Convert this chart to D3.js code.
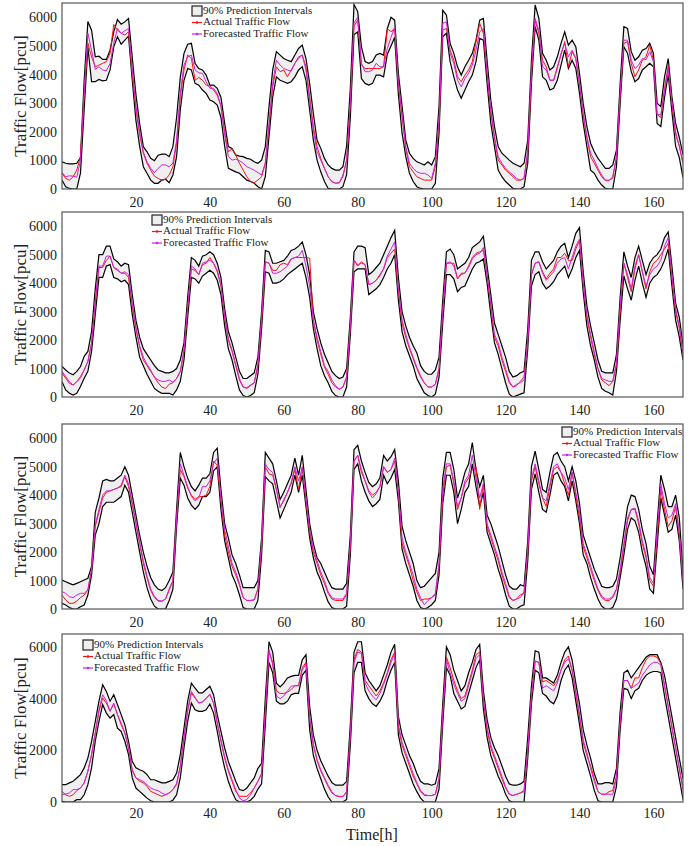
<!DOCTYPE html>
<html>
<head>
<meta charset="utf-8">
<script src="https://cdn.jsdelivr.net/npm/d3@7"></script>
<style>
  body { margin: 0; background: #fff; }
  svg text { font-family: "Liberation Serif", "Times New Roman", serif; fill: #222; }
</style>
</head>
<body>
<svg id="chart" width="697" height="846"></svg>
<script>
// hourly values, h = 0..168
var actual1 = [
 550, 370, 310, 430, 660, 1130, 3300, 5100, 4620, 4270,
 4330, 4390, 4450, 4740, 5750, 5550, 5440, 5380, 5490, 4000,
 2800, 1900, 1250, 900, 660, 450, 370, 310, 340, 490,
 780, 1600, 3220, 4160, 4680, 4560, 3800, 3900, 3800, 3630,
 3600, 3460, 3280, 2900, 2000, 1300, 1400, 1190, 900, 660,
 430, 260, 220, 310, 430, 900, 2180, 3570, 4270, 4100,
 4160, 3920, 4160, 4390, 4620, 4680, 4270, 3220, 2180, 1480,
 1070, 720, 430, 260, 200, 220, 430, 1000, 3000, 5700,
 5900, 4330, 4210, 4210, 4210, 4210, 4210, 4270, 5600, 5500,
 5600, 3640, 2530, 1420, 780, 600, 430, 370, 310, 310,
 310, 780, 2300, 5550, 5610, 4850, 4500, 3920, 3750, 3980,
 4160, 4450, 5150, 5790, 5440, 4000, 2700, 1770, 1010, 840,
 660, 550, 430, 310, 310, 370, 1250, 4000, 5900, 5440,
 4500, 4270, 3800, 3800, 4270, 4680, 5150, 4270, 4800, 4560,
 3660, 2580, 1770, 1130, 900, 660, 430, 290, 290, 430,
 1130, 3280, 5090, 5150, 4390, 3920, 4160, 4500, 4620, 5030,
 4500, 2600, 2500, 3500, 4300, 3000, 1900, 1500, 900];
var forecast1 = [
 580, 430, 460, 450, 410, 1000, 3400, 5440, 4850, 4180,
 4270, 4160, 4130, 4390, 5090, 5610, 5440, 5530, 5610, 4200,
 2900, 2000, 1300, 950, 720, 570, 720, 840, 840, 780,
 900, 1700, 3340, 4330, 4620, 4680, 4160, 4060, 4040, 3750,
 3520, 3520, 3340, 2900, 1900, 1130, 1010, 1040, 990, 900,
 780, 720, 660, 570, 490, 900, 2290, 3690, 4500, 4330,
 4210, 4160, 4120, 4390, 4560, 4680, 4160, 3110, 2060, 1300,
 1010, 720, 430, 260, 200, 220, 490, 1000, 3000, 5800,
 6000, 4390, 4100, 4100, 4160, 4390, 4270, 4270, 4900, 5300,
 5650, 3700, 2620, 1480, 900, 720, 600, 550, 550, 490,
 370, 900, 2400, 5790, 5840, 4740, 4390, 3800, 3570, 3860,
 4040, 4330, 4850, 5490, 5610, 4100, 2760, 1830, 1130, 900,
 720, 600, 490, 370, 310, 370, 1360, 4160, 5960, 5550,
 4270, 4160, 3800, 3800, 4210, 4740, 5090, 4620, 4850, 4560,
 3690, 2640, 1830, 1250, 1010, 720, 490, 310, 310, 370,
 1130, 3340, 5200, 5200, 4500, 4210, 4330, 4560, 4520, 4800,
 4450, 2600, 2600, 3400, 4210, 3050, 2000, 1500, 900];
var upper1 = [
 950, 900, 880, 880, 900, 1100, 3800, 5850, 5550, 4620,
 4640, 4530, 4530, 4850, 5490, 5920, 5760, 5840, 5960, 4600,
 3300, 2300, 1480, 1300, 1070, 990, 1180, 1220, 1220, 1130,
 1480, 2500, 3900, 4740, 5060, 5090, 4390, 4210, 4160, 3980,
 3630, 3630, 3520, 3200, 2300, 1480, 1420, 1190, 1150, 1130,
 1070, 1040, 950, 900, 1010, 1480, 2880, 4160, 4800, 4680,
 4560, 4500, 4450, 4680, 4910, 5030, 4560, 3690, 2640, 1710,
 1420, 1070, 840, 720, 660, 660, 780, 1500, 3500, 6450,
 6200, 4970, 4450, 4390, 4450, 4680, 4740, 4680, 5600, 6000,
 5900, 4040, 2900, 1710, 1250, 1070, 950, 900, 840, 950,
 840, 1130, 2900, 6250, 6080, 5090, 4740, 4270, 3980, 4270,
 4500, 4740, 5200, 5900, 5960, 4500, 3110, 2180, 1480, 1250,
 1130, 1010, 900, 840, 780, 900, 1710, 4500, 6430, 5960,
 4740, 4500, 4160, 4270, 4620, 5090, 5490, 5030, 5200, 4970,
 4040, 2990, 2180, 1600, 1300, 1070, 900, 720, 720, 840,
 1360, 3690, 5670, 5610, 4800, 4500, 4620, 4850, 4910, 5090,
 4740, 3000, 2880, 3920, 4560, 3220, 2300, 1800, 1200];
var lower1 = [
 310, 80, 20, 0, 0, 550, 2800, 4950, 3750, 3750,
 3830, 3780, 3800, 4160, 4970, 5320, 5060, 5200, 5340, 3800,
 2400, 1500, 780, 550, 310, 200, 200, 310, 340, 220,
 490, 1130, 2760, 3800, 4210, 4160, 3690, 3630, 3460, 3340,
 3110, 3050, 2930, 2500, 1500, 720, 660, 600, 550, 430,
 310, 260, 200, 80, 0, 430, 1830, 3220, 3920, 3800,
 3750, 3690, 3750, 3920, 4160, 4270, 3800, 2760, 1710, 1010,
 600, 260, 20, 0, 0, 0, 80, 500, 2500, 5400,
 5490, 3860, 3690, 3630, 3690, 3980, 3980, 3920, 4700, 5000,
 5300, 3300, 1950, 1130, 550, 260, 80, 20, 0, 0,
 0, 200, 1950, 5320, 5440, 4450, 3920, 3460, 3170, 3460,
 3750, 3980, 4450, 5260, 5200, 3700, 2300, 1480, 660, 430,
 260, 140, 20, 0, 0, 80, 900, 3700, 5670, 5200,
 3920, 3800, 3460, 3520, 3800, 4330, 4850, 4210, 4500, 4210,
 3340, 2300, 1480, 660, 550, 310, 140, 20, 0, 0,
 780, 3000, 4970, 4740, 4100, 3750, 3860, 4160, 4270, 4390,
 4270, 2290, 2180, 3200, 4000, 2700, 1500, 1100, 400];

var actual2 = [
 840, 660, 480, 420, 540, 720, 950, 1250, 1900, 3300,
 4550, 4550, 4800, 4950, 4550, 4450, 4350, 4350, 4200, 3200,
 2400, 1750, 1300, 1100, 900, 700, 500, 350, 300, 450,
 500, 650, 900, 1600, 3100, 4500, 4450, 4300, 4650, 4700,
 4900, 4700, 4400, 3900, 2800, 2000, 1600, 1100, 600, 350,
 300, 400, 500, 1100, 2700, 4750, 4700, 4450, 4450, 4650,
 4700, 4650, 4850, 4900, 4900, 4900, 4900, 4880, 2700, 2000,
 1500, 1050, 800, 500, 350, 270, 350, 700, 2500, 4800,
 4600, 4750, 4650, 3950, 4000, 4100, 4300, 4500, 4900, 5050,
 5200, 3700, 2600, 2100, 1700, 1350, 1000, 700, 500, 350,
 350, 450, 1000, 3000, 4700, 4700, 4700, 4150, 4350, 4350,
 4600, 4900, 5050, 5100, 5150, 4300, 3200, 2100, 1800, 1300,
 900, 500, 350, 400, 550, 700, 2000, 4300, 4700, 4750,
 4400, 4150, 4350, 4500, 4900, 4900, 5050, 4800, 4800, 5200,
 5500, 4000, 2800, 2100, 1500, 1000, 600, 500, 400, 550,
 1100, 3000, 4700, 4200, 3700, 4500, 5000, 4400, 3800, 4400,
 4700, 4800, 5000, 5200, 5400, 4200, 3000, 2400, 1500];
var forecast2 = [
 900, 720, 540, 420, 540, 660, 950, 1250, 1900, 3400,
 4600, 4600, 4950, 4950, 4550, 4500, 4350, 4400, 4300, 3300,
 2450, 1800, 1400, 1150, 950, 700, 600, 550, 550, 600,
 520, 650, 900, 1650, 3200, 4600, 4500, 4300, 4700, 4750,
 4800, 4700, 4450, 3950, 2850, 2050, 1650, 1150, 650, 350,
 330, 420, 500, 1150, 2750, 4750, 4700, 4350, 4350, 4400,
 4500, 4600, 4850, 4900, 4950, 5150, 4600, 3900, 2700, 2100,
 1600, 1100, 900, 600, 400, 270, 350, 700, 2500, 4800,
 4650, 4700, 4650, 3950, 4000, 4100, 4250, 4500, 4950, 5200,
 5450, 3800, 2700, 2200, 1750, 1400, 1050, 750, 500, 350,
 350, 450, 1000, 3000, 4700, 4750, 4600, 4150, 4300, 4350,
 4550, 4850, 5000, 5050, 5250, 4300, 3300, 2200, 1900, 1400,
 1000, 550, 350, 450, 500, 600, 2000, 4300, 4700, 4750,
 4350, 4100, 4250, 4400, 4700, 4850, 4900, 4500, 4900, 5300,
 5550, 4000, 2900, 2200, 1600, 1000, 650, 600, 550, 550,
 1200, 3200, 4700, 4300, 3800, 4600, 5000, 4400, 3900, 4300,
 4500, 4600, 4800, 5300, 5600, 4300, 3100, 2500, 1550];
var upper2 = [
 1070, 950, 840, 780, 900, 1070, 1430, 1600, 2300, 3800,
 5000, 5000, 5300, 5300, 4850, 4750, 4600, 4700, 4650, 3600,
 2700, 2100, 1700, 1500, 1300, 1100, 950, 900, 850, 850,
 900, 1000, 1300, 1900, 3500, 4900, 4800, 4600, 4950, 5000,
 5100, 5000, 4700, 4200, 3100, 2300, 1900, 1400, 900, 650,
 650, 750, 850, 1400, 3000, 5150, 5100, 4700, 4700, 4750,
 4800, 4950, 5150, 5200, 5300, 5450, 5000, 4300, 3000, 2400,
 1900, 1500, 1200, 900, 750, 650, 700, 1000, 2800, 5100,
 5300, 5300, 5250, 4300, 4400, 4550, 4700, 5000, 5300, 5600,
 5850, 4200, 3000, 2500, 2100, 1800, 1550, 1100, 900, 800,
 800, 950, 1400, 3400, 5100, 5200, 5000, 4500, 4600, 4700,
 4900, 5250, 5350, 5450, 5650, 4600, 3600, 2600, 2200, 1800,
 1400, 900, 700, 750, 850, 900, 2400, 4800, 5100, 5100,
 4750, 4500, 4650, 4800, 5100, 5300, 5400, 4900, 5300, 5750,
 5950, 4400, 3200, 2500, 1900, 1300, 900, 850, 850, 850,
 1500, 3500, 5100, 4600, 4200, 4900, 5300, 4800, 4300, 4700,
 4900, 5000, 5200, 5600, 5800, 4600, 3300, 2800, 1800];
var lower2 = [
 540, 250, 130, 70, 130, 370, 660, 900, 1600, 2900,
 4200, 4200, 4600, 4650, 4200, 4150, 4050, 4100, 3950, 2900,
 2100, 1400, 1100, 800, 550, 300, 200, 130, 130, 130,
 70, 250, 550, 1300, 2800, 4200, 4150, 4000, 4250, 4350,
 4450, 4350, 4100, 3600, 2500, 1700, 1300, 750, 250, 50,
 0, 50, 150, 800, 2400, 4400, 4350, 4000, 4000, 4050,
 4150, 4300, 4400, 4500, 4600, 4700, 4200, 3500, 2400, 1700,
 1100, 750, 500, 200, 50, 0, 0, 350, 2200, 4400,
 4500, 4500, 4500, 3600, 3700, 3800, 3950, 4200, 4500, 4700,
 5000, 3400, 2300, 1800, 1450, 1100, 650, 400, 150, 50,
 0, 100, 700, 2600, 4300, 4300, 4150, 3700, 3850, 3900,
 4200, 4500, 4700, 4750, 4850, 4000, 2900, 1900, 1500, 1000,
 500, 100, 0, 50, 100, 150, 1700, 3900, 4300, 4400,
 4000, 3800, 3900, 4050, 4300, 4450, 4600, 4200, 4500, 4900,
 5150, 3700, 2500, 1800, 1300, 700, 300, 200, 150, 70,
 900, 2700, 4250, 3800, 3400, 4100, 4600, 4000, 3500, 4000,
 4200, 4300, 4500, 4800, 5200, 3900, 2700, 2100, 1300];

var actual3 = [
 490, 320, 200, 200, 280, 400, 490, 670, 1380, 2900,
 3400, 3900, 4100, 4150, 4200, 4250, 4300, 4650, 4300, 3700,
 3000, 2300, 1600, 1100, 650, 400, 280, 270, 350, 700,
 1000, 3200, 4900, 4650, 4250, 4000, 3850, 3950, 3950, 4000,
 4300, 5200, 5050, 3800, 2600, 2000, 1500, 1200, 850, 400,
 300, 300, 320, 700, 2200, 5000, 4750, 4700, 4200, 3600,
 3800, 4100, 4400, 4900, 4200, 5000, 3800, 2700, 2000, 1600,
 1200, 900, 550, 350, 300, 300, 300, 500, 2200, 5200,
 5400, 4800, 4500, 4150, 4000, 4100, 4300, 5000, 4800, 4900,
 5200, 4100, 2300, 1900, 1500, 1000, 600, 300, 350, 350,
 400, 500, 1500, 4000, 5000, 5050, 4400, 3500, 3900, 4400,
 4600, 4900, 5000, 3500, 4400, 2900, 2500, 2100, 1700, 1200,
 800, 400, 300, 350, 500, 550, 2000, 4500, 5000, 4400,
 3900, 3600, 4300, 4900, 5000, 4800, 4400, 4000, 4800, 4000,
 3200, 2200, 1800, 1400, 1000, 650, 400, 300, 300, 400,
 700, 1300, 2200, 3100, 3500, 3500, 3000, 2300, 1800, 1000,
 800, 2500, 4200, 3500, 2900, 3100, 3600, 2600, 1000];
var forecast3 = [
 610, 550, 430, 400, 490, 550, 550, 670, 1400, 2950,
 3500, 4000, 4150, 4150, 4200, 4250, 4350, 4700, 4400, 3750,
 3050, 2350, 1700, 1150, 700, 450, 300, 280, 350, 650,
 1000, 3200, 5100, 4700, 4300, 3950, 3800, 3900, 4300, 4300,
 4500, 5100, 5300, 3900, 2800, 2200, 1600, 1300, 900, 400,
 300, 300, 320, 700, 2300, 5100, 4900, 4800, 4200, 3550,
 3850, 4100, 4450, 5000, 4500, 4950, 3900, 2800, 2100, 1700,
 1300, 1000, 600, 400, 350, 350, 350, 550, 2300, 5200,
 5400, 4900, 4500, 4100, 3900, 4050, 4300, 5000, 4800, 4900,
 5300, 4100, 2500, 2000, 1600, 1200, 700, 400, 150, 300,
 400, 550, 1600, 4200, 5100, 5100, 4500, 3600, 3900, 4500,
 4700, 5400, 4600, 3900, 4400, 3000, 2600, 2200, 1800, 1300,
 900, 450, 300, 350, 400, 600, 2100, 4600, 5100, 4500,
 3900, 3800, 4400, 5000, 5100, 4800, 4600, 4200, 4800, 4100,
 3400, 2300, 1900, 1500, 1100, 700, 450, 350, 350, 450,
 700, 1400, 2300, 3200, 3500, 3550, 3100, 2400, 1900, 1100,
 900, 2700, 4400, 3700, 3200, 3300, 3700, 2700, 1000];
var upper3 = [
 1020, 960, 900, 850, 900, 960, 1020, 1080, 1500, 3400,
 3900, 4500, 4550, 4500, 4500, 4600, 4700, 5000, 4700, 4000,
 3300, 2600, 2000, 1500, 1100, 850, 700, 650, 750, 1000,
 1300, 3500, 5500, 5000, 4600, 4300, 4150, 4350, 4600, 4600,
 4750, 5500, 5650, 4200, 3000, 2500, 1900, 1600, 1200, 750,
 750, 750, 750, 1000, 2500, 5500, 5300, 5100, 4500, 3850,
 4100, 4400, 4700, 5300, 4700, 5400, 4200, 3000, 2300, 1800,
 1600, 1300, 1000, 750, 700, 700, 700, 900, 2600, 5600,
 5750, 5200, 4800, 4450, 4300, 4400, 4600, 5400, 5200, 5350,
 5600, 4500, 2900, 2400, 2000, 1600, 1000, 750, 800, 950,
 1100, 1250, 2000, 4600, 5500, 5500, 4900, 3900, 4300, 4800,
 5100, 5850, 4900, 4300, 4700, 3300, 3000, 2600, 2200, 1700,
 1200, 800, 700, 700, 850, 800, 2400, 5000, 5550, 4900,
 4200, 4100, 4800, 5400, 5500, 5200, 5000, 4500, 5000, 4500,
 3700, 2600, 2200, 1800, 1400, 1100, 800, 750, 750, 800,
 1050, 1800, 2700, 3600, 4000, 3950, 3500, 2800, 2300, 1500,
 1200, 3000, 4700, 4200, 3600, 3600, 4000, 3200, 1300];
var lower3 = [
 200, 140, 50, 0, 0, 80, 140, 490, 1200, 2600,
 3000, 3600, 3750, 3750, 3750, 3850, 3950, 4350, 4100, 3400,
 2700, 2000, 1300, 750, 350, 100, 0, 0, 0, 300,
 700, 2900, 4600, 4350, 3900, 3650, 3500, 3650, 3950, 3950,
 4100, 4850, 5000, 3500, 2400, 1800, 1200, 900, 500, 50,
 0, 0, 0, 300, 1900, 4650, 4500, 4400, 3800, 3200,
 3500, 3800, 4100, 4700, 4100, 4700, 3600, 2500, 1800, 1300,
 1000, 600, 250, 50, 0, 0, 0, 100, 1900, 4900,
 5100, 4500, 4100, 3800, 3600, 3700, 3850, 4700, 4400, 4600,
 4900, 3800, 2100, 1600, 1200, 800, 300, 50, 0, 50,
 150, 300, 1200, 3700, 4700, 4700, 4100, 3000, 3500, 4100,
 4300, 5100, 4300, 3600, 4100, 2700, 2300, 1900, 1400, 1000,
 500, 100, 0, 0, 100, 150, 1700, 4200, 4750, 4100,
 3500, 3400, 4000, 4700, 4800, 4500, 4300, 3800, 4500, 3800,
 3000, 1900, 1600, 1100, 700, 350, 100, 0, 0, 50,
 350, 1100, 1900, 2800, 3200, 3100, 2700, 2000, 1500, 700,
 550, 2200, 3900, 3300, 2700, 2800, 3300, 2400, 700];

var actual4 = [
 410, 280, 220, 280, 440, 540, 740, 1190, 1830, 2670,
 3510, 4020, 3830, 3510, 3790, 3380, 2990, 2670, 2090, 1250,
 930, 800, 740, 610, 410, 350, 280, 220, 280, 350,
 480, 670, 1380, 2480, 3510, 4220, 4020, 3830, 3870, 4020,
 4150, 3830, 3060, 2350, 1700, 1190, 800, 410, 220, 220,
 220, 350, 540, 800, 1100, 3500, 5800, 5400, 4300, 4200,
 4200, 4250, 4350, 4500, 4500, 5200, 5400, 3200, 2200, 1600,
 1200, 900, 600, 350, 250, 200, 200, 400, 2600, 5500,
 5900, 5800, 4700, 4500, 4300, 4100, 4300, 4600, 5000, 5500,
 5800, 2900, 2200, 1800, 1400, 1000, 700, 400, 250, 250,
 250, 300, 900, 3400, 5600, 5200, 4700, 4300, 4000, 4100,
 4600, 5100, 5700, 5800, 3900, 2800, 2100, 1700, 1300, 900,
 550, 300, 250, 300, 350, 450, 2000, 4100, 5450, 5400,
 4650, 4700, 4600, 4500, 4700, 5100, 5500, 5650, 5100, 4200,
 3300, 2300, 1800, 1400, 900, 400, 300, 300, 400, 450,
 1000, 3100, 4700, 4700, 4400, 4800, 4800, 5200, 5500, 5650,
 5650, 5600, 5350, 4500, 3700, 2900, 2100, 1300, 500];
var forecast4 = [
 280, 310, 350, 480, 480, 540, 740, 1190, 1830, 2670,
 3570, 4150, 3920, 3510, 3830, 3380, 3060, 2670, 2090, 1200,
 930, 860, 800, 670, 540, 480, 440, 350, 280, 350,
 480, 720, 1380, 2480, 3570, 4280, 4050, 3830, 3870, 4000,
 4180, 3830, 3060, 2400, 1750, 1250, 860, 480, 150, 50,
 90, 280, 540, 800, 1100, 3500, 5900, 5300, 4100, 4000,
 4100, 4300, 4480, 4500, 4500, 5100, 5350, 3300, 2250, 1650,
 1250, 950, 650, 400, 250, 220, 220, 400, 2600, 5400,
 5800, 5750, 4600, 4300, 4100, 3950, 4200, 4550, 4950, 5400,
 5750, 3000, 2300, 1900, 1500, 1100, 750, 450, 300, 250,
 250, 300, 900, 3400, 5500, 5000, 4550, 4200, 3900, 4000,
 4500, 5000, 5550, 5700, 4000, 2900, 2200, 1800, 1400, 1000,
 600, 300, 250, 300, 350, 400, 2000, 4100, 5450, 5400,
 4400, 4500, 4400, 4300, 4600, 5100, 5400, 5550, 5100, 4300,
 3400, 2400, 1900, 1300, 800, 400, 300, 300, 300, 300,
 900, 3100, 4700, 4700, 4400, 4500, 4600, 4900, 5100, 5300,
 5400, 5400, 5300, 4500, 3700, 2900, 2100, 1300, 500];
var upper4 = [
 670, 670, 740, 800, 930, 1060, 1320, 1700, 2350, 3120,
 3900, 4540, 4280, 3900, 4150, 3770, 3380, 2990, 2350, 1570,
 1320, 1250, 1190, 1060, 860, 860, 800, 740, 740, 800,
 860, 1120, 1830, 2860, 3900, 4600, 4410, 4220, 4220, 4350,
 4480, 4150, 3380, 2730, 2090, 1570, 1190, 800, 480, 440,
 540, 740, 930, 1300, 1500, 4000, 6200, 5800, 4600, 4450,
 4600, 4800, 4860, 4900, 4900, 5500, 5700, 3700, 2600, 2000,
 1600, 1300, 1000, 750, 650, 650, 650, 800, 3000, 5800,
 6200, 6200, 5000, 4700, 4500, 4300, 4500, 4900, 5300, 5800,
 6100, 3300, 2600, 2200, 1800, 1500, 1100, 800, 700, 700,
 650, 700, 1300, 3800, 6000, 5700, 5100, 4700, 4300, 4500,
 5000, 5400, 5900, 6100, 4300, 3200, 2500, 2100, 1800, 1400,
 1000, 700, 650, 650, 700, 800, 2500, 4500, 5850, 5800,
 4800, 4800, 4700, 4600, 4900, 5400, 5800, 6000, 5500, 4600,
 3800, 2800, 2200, 1700, 1100, 700, 700, 750, 750, 700,
 1300, 3500, 5000, 5100, 4800, 5000, 5200, 5400, 5600, 5700,
 5700, 5700, 5400, 4900, 4100, 3300, 2500, 1700, 900];
var lower4 = [
 30, 0, 0, 0, 90, 90, 280, 670, 1320, 2350,
 3120, 3770, 3440, 3250, 3380, 2860, 2730, 2350, 1830, 930,
 540, 410, 280, 150, 50, 0, 0, 0, 0, 0,
 70, 280, 930, 2090, 3120, 3830, 3570, 3510, 3510, 3570,
 3790, 3440, 2730, 1960, 1320, 800, 410, 90, 0, 0,
 0, 70, 220, 500, 700, 3000, 5400, 5000, 3900, 3800,
 3800, 3900, 4150, 4200, 4200, 4900, 5100, 2800, 1800, 1300,
 900, 500, 200, 0, 0, 0, 0, 100, 2200, 5000,
 5400, 5400, 4300, 4000, 3800, 3700, 3900, 4200, 4700, 5100,
 5400, 2600, 1900, 1500, 1100, 700, 400, 150, 0, 0,
 0, 0, 500, 3000, 5200, 4900, 4200, 3900, 3600, 3700,
 4200, 4700, 5200, 5500, 3600, 2500, 1800, 1400, 1000, 700,
 300, 50, 0, 0, 0, 0, 1700, 3800, 5100, 5000,
 4200, 4100, 3900, 3800, 4100, 4700, 5100, 5300, 4800, 3900,
 3000, 2000, 1500, 1000, 450, 50, 0, 0, 0, 0,
 600, 2800, 4400, 4350, 4000, 4300, 4400, 4700, 4900, 5000,
 5050, 5050, 5000, 4100, 3300, 2500, 1700, 900, 100];

var xTicks = [20, 40, 60, 80, 100, 120, 140, 160];
var yTicksFine = [0, 1000, 2000, 3000, 4000, 5000, 6000];
var yTicksCoarse = [0, 2000, 4000, 6000];
var legendLabels = ["90% Prediction Intervals", "Actual Traffic Flow", "Forecasted Traffic Flow"];

var panels = [
  {actual: actual1, forecast: forecast1, lower: lower1, upper: upper1, top: 3, bottom: 189, ticks: yTicksFine, lx: 192, ly: 11, pad: 8},
  {actual: actual2, forecast: forecast2, lower: lower2, upper: upper2, top: 212, bottom: 397, ticks: yTicksFine, lx: 152, ly: 220, pad: 8},
  {actual: actual3, forecast: forecast3, lower: lower3, upper: upper3, top: 424, bottom: 609, ticks: yTicksFine, lx: 562, ly: 432, pad: 8},
  {actual: actual4, forecast: forecast4, lower: lower4, upper: upper4, top: 634, bottom: 802, ticks: yTicksCoarse, lx: 83, ly: 645, pad: 6}
];

var left = 62, right = 683;
var red = "#ff1010", magenta = "#cc22dd", bandFill = "#efefef";

var svg = d3.select("#chart");
var x = d3.scaleLinear().domain([0, 168]).range([left, right]);

panels.forEach(function (p, k) {
  var y = d3.scaleLinear().domain([0, 6500]).range([p.bottom, p.top]);
  var g = svg.append("g");

  g.append("clipPath").attr("id", "clip" + k)
    .append("rect").attr("x", left).attr("y", p.top).attr("width", right - left).attr("height", p.bottom - p.top);

  var plot = g.append("g").attr("clip-path", "url(#clip" + k + ")");

  var area = d3.area()
    .x(function (d, i) { return x(i); })
    .y0(function (d, i) { return y(p.lower[i]); })
    .y1(function (d) { return y(d); });
  var line = d3.line()
    .x(function (d, i) { return x(i); })
    .y(function (d) { return y(d); });

  plot.append("path").datum(p.upper).attr("d", area).attr("fill", bandFill);
  plot.append("path").datum(p.upper).attr("d", line).attr("fill", "none").attr("stroke", "#000").attr("stroke-width", 1.2);
  plot.append("path").datum(p.lower).attr("d", line).attr("fill", "none").attr("stroke", "#000").attr("stroke-width", 1.2);
  plot.append("path").datum(p.actual).attr("d", line).attr("fill", "none").attr("stroke", red).attr("stroke-width", 1);
  plot.append("path").datum(p.forecast).attr("d", line).attr("fill", "none").attr("stroke", magenta).attr("stroke-width", 1);

  // frame
  g.append("rect").attr("x", left).attr("y", p.top).attr("width", right - left).attr("height", p.bottom - p.top)
    .attr("fill", "none").attr("stroke", "#555").attr("stroke-width", 1.2);

  var ya = g.append("g").attr("transform", "translate(" + left + ",0)")
    .call(d3.axisLeft(y).tickValues(p.ticks).tickSize(0).tickPadding(5).tickFormat(d3.format("d")));
  ya.select(".domain").remove();
  ya.selectAll("text").style("font-size", "14px").style("font-family", "Liberation Serif").attr("fill", "#222");

  var xa = g.append("g").attr("transform", "translate(0," + p.bottom + ")")
    .call(d3.axisBottom(x).tickValues(xTicks).tickSize(0).tickPadding(p.pad));
  xa.select(".domain").remove();
  xa.selectAll("text").style("font-size", "14px").style("font-family", "Liberation Serif").attr("fill", "#222");

  g.append("text")
    .attr("transform", "translate(22," + ((p.top + p.bottom) / 2) + ") rotate(-90)")
    .attr("text-anchor", "middle").attr("dominant-baseline", "middle")
    .style("font-size", "17px").text("Traffic Flow[pcu]");

  // legend
  var lg = g.append("g").attr("transform", "translate(" + p.lx + "," + p.ly + ")");
  lg.append("rect").attr("x", 0).attr("y", -5).attr("width", 10).attr("height", 10)
    .attr("fill", "#eee").attr("stroke", "#222").attr("stroke-width", 1.2);
  [red, magenta].forEach(function (c, j) {
    var yy = 11.5 * (j + 1);
    lg.append("line").attr("x1", 0).attr("x2", 10).attr("y1", yy).attr("y2", yy).attr("stroke", c).attr("stroke-width", 1.2);
    lg.append("circle").attr("cx", 5).attr("cy", yy).attr("r", 1.2).attr("fill", c);
  });
  legendLabels.forEach(function (t, j) {
    lg.append("text").attr("x", 11).attr("y", 11.5 * j).attr("dominant-baseline", "middle")
      .style("font-size", "11px").text(t);
  });
});

svg.append("text").attr("x", 372).attr("y", 840).attr("text-anchor", "middle")
  .style("font-size", "16px").text("Time[h]");
</script>
</body>
</html>
